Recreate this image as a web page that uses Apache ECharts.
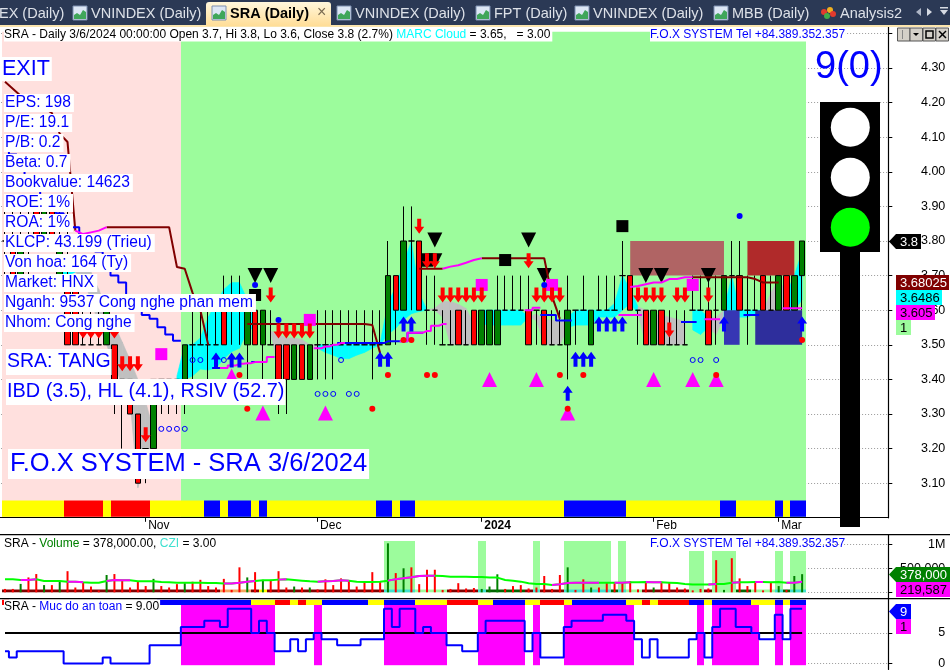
<!DOCTYPE html>
<html><head><meta charset="utf-8">
<style>html,body{margin:0;padding:0;background:#fff}#c{width:950px;height:670px}</style>
<script src="https://cdn.jsdelivr.net/npm/echarts@6/dist/echarts.min.js"></script>
</head><body><div id="c"></div>
<script>
// ---------- categories ----------
const dates=['2023-10-06','2023-10-09','2023-10-10','2023-10-11','2023-10-12','2023-10-13','2023-10-16','2023-10-17','2023-10-18','2023-10-19','2023-10-20','2023-10-23','2023-10-24','2023-10-25','2023-10-26','2023-10-27','2023-10-30','2023-10-31',
'2023-11-01','2023-11-02','2023-11-03','2023-11-06','2023-11-07','2023-11-08','2023-11-09','2023-11-10','2023-11-13','2023-11-14','2023-11-15','2023-11-16','2023-11-17','2023-11-20','2023-11-21','2023-11-22','2023-11-23','2023-11-24','2023-11-27','2023-11-28','2023-11-29','2023-11-30',
'2023-12-01','2023-12-04','2023-12-05','2023-12-06','2023-12-07','2023-12-08','2023-12-11','2023-12-12','2023-12-13','2023-12-14','2023-12-15','2023-12-18','2023-12-19','2023-12-20','2023-12-21','2023-12-22','2023-12-25','2023-12-26','2023-12-27','2023-12-28','2023-12-29',
'2024-01-02','2024-01-03','2024-01-04','2024-01-05','2024-01-08','2024-01-09','2024-01-10','2024-01-11','2024-01-12','2024-01-15','2024-01-16','2024-01-17','2024-01-18','2024-01-19','2024-01-22','2024-01-23','2024-01-24','2024-01-25','2024-01-26','2024-01-29','2024-01-30','2024-01-31',
'2024-02-01','2024-02-02','2024-02-05','2024-02-06','2024-02-07','2024-02-15','2024-02-16','2024-02-19','2024-02-20','2024-02-21','2024-02-22','2024-02-23','2024-02-26','2024-02-27','2024-02-28','2024-02-29',
'2024-03-01','2024-03-04','2024-03-05','2024-03-06'];
const tickIndexes=[18,40,61,83,99];
const tickNames=['Nov','Dec','2024','Feb','Mar'];
const priceTicks=[3.1,3.2,3.3,3.4,3.5,3.6,3.7,3.8,3.9,4.0,4.1,4.2,4.3,4.4];
const priceLabels=[3.1,3.2,3.3,3.4,3.5,3.6,3.7,3.8,3.9,4.0,4.1,4.2,4.3];
const volumeTicks=[0,500000,1000000];
const safetyTicks=[0,5];

// ---------- candles ----------
const opens =[3.8,3.8,3.7,3.8,3.9,3.8,3.9,3.7,3.7,3.7,3.5,3.5,3.5,3.5,3.5,3.4,3.4,3.3,3.2,3.2,3.4,3.4,3.4,3.4,3.5,3.5,3.5,3.5,3.6,3.6,3.6,3.5,3.6,3.5,3.5,3.5,3.5,3.4,3.5,3.4,3.5,3.5,3.5,3.5,3.5,3.5,3.5,3.5,3.5,3.5,3.7,3.6,3.8,3.8,3.6,3.6,3.5,3.5,3.6,3.5,3.6,3.5,3.5,3.5,3.6,3.6,3.6,3.6,3.6,3.6,3.5,3.5,3.5,3.6,3.6,3.5,3.6,3.6,3.6,3.7,3.7,3.6,3.6,3.5,3.6,3.5,3.5,3.5,3.6,3.6,3.6,3.6,3.6,3.7,3.7,3.6,3.6,3.7,3.6,3.6,3.7,3.6,3.7];
const closes=[3.8,3.7,3.8,3.8,3.8,3.9,3.8,3.8,3.5,3.5,3.5,3.5,3.5,3.6,3.4,3.4,3.3,3.1,3.2,3.4,3.4,3.4,3.4,3.5,3.5,3.5,3.5,3.5,3.5,3.6,3.6,3.6,3.5,3.6,3.5,3.4,3.4,3.5,3.4,3.5,3.5,3.5,3.5,3.5,3.5,3.5,3.5,3.5,3.5,3.7,3.6,3.8,3.8,3.6,3.6,3.6,3.5,3.5,3.5,3.5,3.5,3.6,3.6,3.6,3.6,3.6,3.6,3.5,3.6,3.5,3.5,3.5,3.6,3.6,3.6,3.6,3.6,3.6,3.6,3.7,3.6,3.6,3.5,3.6,3.5,3.5,3.5,3.5,3.6,3.6,3.5,3.6,3.7,3.7,3.6,3.6,3.6,3.6,3.6,3.7,3.6,3.7,3.8];
const lows  =[3.7,3.7,3.7,3.7,3.8,3.8,3.8,3.7,3.5,3.5,3.5,3.5,3.5,3.5,3.3,3.2,3.3,3.1,3.1,3.2,3.3,3.3,3.3,3.3,3.4,3.5,3.4,3.5,3.5,3.5,3.5,3.4,3.5,3.4,3.5,3.3,3.3,3.4,3.4,3.4,3.4,3.4,3.4,3.5,3.5,3.5,3.5,3.4,3.5,3.5,3.5,3.6,3.6,3.6,3.5,3.5,3.5,3.5,3.5,3.5,3.5,3.5,3.5,3.5,3.6,3.6,3.6,3.5,3.5,3.5,3.5,3.5,3.4,3.5,3.6,3.5,3.6,3.6,3.6,3.6,3.6,3.5,3.5,3.5,3.5,3.5,3.5,3.5,3.6,3.6,3.5,3.5,3.6,3.6,3.6,3.5,3.6,3.6,3.6,3.6,3.6,3.6,3.6];
const highs =[3.9,3.9,3.9,3.9,3.9,3.9,3.9,3.9,3.9,3.7,3.6,3.6,3.6,3.6,3.5,3.4,3.4,3.3,3.2,3.4,3.4,3.4,3.4,3.5,3.6,3.6,3.6,3.6,3.7,3.7,3.7,3.6,3.6,3.6,3.6,3.5,3.5,3.5,3.5,3.5,3.6,3.6,3.6,3.6,3.6,3.6,3.6,3.6,3.6,3.8,3.7,3.9,3.9,3.8,3.7,3.7,3.6,3.6,3.6,3.6,3.6,3.6,3.6,3.7,3.7,3.7,3.7,3.7,3.6,3.6,3.6,3.6,3.7,3.6,3.7,3.6,3.7,3.7,3.7,3.8,3.7,3.6,3.6,3.6,3.6,3.6,3.6,3.6,3.7,3.7,3.7,3.7,3.7,3.8,3.8,3.7,3.7,3.7,3.7,3.7,3.7,3.7,3.8];

// ---------- volume (shares), direction of each bar ----------
const volumes=[70,70,175,310,380,150,150,220,440,100,200,120,40,360,380,240,100,220,130,280,130,100,170,190,220,260,130,100,280,50,520,310,420,260,260,440,100,120,100,100,60,270,150,290,240,120,210,420,220,1020,400,500,520,170,470,470,50,70,190,80,90,70,120,375,70,130,150,80,100,340,70,360,520,50,270,100,100,210,190,210,230,60,220,100,220,200,100,80,40,70,80,670,50,710,290,130,220,40,200,130,50,340,378];
const volumeUp=[2,5,7,13,19,23,31,33,37,39,49,51,61,62,63,72,75,83,92,99,101,102];
const volumeMA=[271,271,257,257,271,236,236,236,222,222,208,201,201,236,257,250,250,229,229,229,215,208,201,201,201,201,194,194,181,181,201,222,236,250,250,264,271,257,243,229,222,229,236,250,243,222,215,215,222,243,271,292,312,340,347,347,340,326,326,326,319,319,306,306,257,243,222,188,174,174,153,167,194,201,201,201,201,201,201,201,208,208,215,208,208,201,194,174,160,160,160,174,174,201,208,208,215,215,208,215,201,201,219];
const volumeMAPinkIndexes=[2,3,4,8,9,10,13,14,15,16,28,29,30,31,32,35,36,40,41,42,43,44,49,50,51,52,53,54,55,70,71,72,73,74,75,76,78,79,80,82,83,84,90,91,93,94,96,97,100,101,102];
const volumeZoneTall=[49,50,51,52,61,68,72,73,74,75,76,77,79];
const volumeZoneShort=[88,89,91,92,93,99,101,102];
const volumeStripRuns=[['D',28],['O',4],['D',1],['Y',1],['D',15],['T',4],['L',4],['D',4],['T',1],['K',5],['D',1],['T',1],['D',3],['T',6],['K',1],['T',1],['L',2],['D',6],['L',2],['D',1],['L',3],['K',2],['L',3],['T',1],['K',1],['T',2]];

// ---------- safety level panel ----------
const safetyLevel=[2,1,2,2,2,2,2,2,0,0,0,0,0,1,0,0,0,0,0,3,3,3,3,6,6,6,7,7,6,9,9,9,5,7,5,2,2,4,2,4,5,4,4,3,3,3,4,4,4,9,6,9,9,5,6,5,5,3,3,2,2,5,7,7,7,7,7,2,5,1,1,1,6,7,7,7,7,8,8,8,7,4,1,4,1,1,1,1,4,5,1,6,9,9,6,6,5,4,4,8,4,9,9];
const safetyLine=new Array(103).fill(5);
const safetyStripRuns=[['R',1],['-',19],['B',12],['Y',3],['R',2],['Y',1],['R',1],['Y',2],['B',6],['Y',2],['B',4],['Y',4],['R',4],['Y',2],['B',4],['Y',2],['R',3],['Y',1],['B',7],['Y',2],['R',1],['Y',1],['R',4],['B',2],['Y',1],['B',5],['Y',3],['B',1],['Y',1],['B',2]];

// ---------- price-panel bands ----------
const regimeRuns=[['P',23],['G',80]];
const ratingRuns=[['Y',8],['R',5],['Y',1],['R',5],['Y',7],['B',2],['Y',1],['B',3],['Y',1],['B',1],['Y',14],['B',2],['Y',1],['B',2],['Y',19],['B',8],['Y',12],['B',2],['Y',5],['B',1],['Y',1],['B',2]];
const boxes=[[80,92,3.7,3.8,'brown'],[95,101,3.7,3.8,'maroon'],[92,94,3.5,3.6,'blue'],[96,102,3.5,3.6,'navy']];

// ---------- cloud ----------
const cloudTop=[null,null,null,null,null,null,null,3.73,3.73,3.72,3.72,3.71,3.66,3.603,3.557,3.508,3.456,3.4,3.335,3.254,null,null,3.41,3.5,3.5,3.52,3.58,3.62,3.66,3.68,3.68,3.63,3.58,null,3.54,3.53,3.52,3.52,3.515,3.5,3.5,3.5,3.5,3.5,3.5,3.5,3.5,3.5,3.505,3.62,3.668,3.736,3.8,3.65,3.6,3.606,3.625,3.625,3.617,3.605,3.56,3.6,3.6,3.6,3.6,3.6,3.6,3.58,3.59,3.572,3.572,3.565,3.58,3.6,3.6,3.6,3.6,3.6,3.62,3.7,3.66,3.61,3.6,3.586,3.586,3.58,3.574,3.567,3.6,3.6,3.58,3.58,3.6,3.7,3.6,3.6,3.6,3.6,3.65,3.69,3.65,3.7,3.77];
const cloudBottom=[null,null,null,null,null,null,null,3.7,3.7,3.71,3.69,3.63,3.557,3.5,3.44,3.385,3.34,3.087,3.167,3.225,null,null,3.4,3.4,3.41,3.43,3.427,3.433,3.46,3.48,3.49,3.54,3.55,null,3.54,3.42,3.5,3.5,3.5,3.5,3.49,3.478,3.47,3.46,3.46,3.47,3.478,3.49,3.5,3.53,3.548,3.572,3.59,3.596,3.6,3.6,3.58,3.5,3.5,3.5,3.5,3.56,3.557,3.557,3.557,3.557,3.557,3.58,3.57,3.5,3.5,3.5,3.55,3.557,3.557,3.557,3.58,3.58,3.58,3.6,3.62,3.59,3.5,3.5,3.5,3.5,3.5,3.5,3.543,3.53,3.55,3.53,3.58,3.6,3.58,3.58,3.59,3.6,3.6,3.6,3.6,3.6,3.63];
const cloudKindRuns=[['-',7],['C',2],['S',11],['-',2],['C',11],['-',1],['S',6],['C',14],['S',6],['-',1],['C',6],['S',5],['C',9],['S',6],['-',1],['C',2],['S',2],['C',5],['S',3],['C',3]];

// ---------- overlay lines ([index,value] readings; gaps are breaks) ----------
const stopReadings=[[0,4.26],[1,4.24],[2,4.22],[3,4.21],[4,4.2],[5,4.185],[6,4.17],[7,4.11],[8,4.086],[9,3.83],[13,3.84],[14,3.84],[15,3.84],[16,3.84],[17,3.84],[18,3.84],[19,3.84],[20,3.84],[21,3.84],[22,3.725],[23,3.72],[24,3.65],[25,3.6],[26,3.5],[31,3.56],[32,3.56],[33,3.56],[34,3.56],[35,3.56],[36,3.56],[37,3.56],[38,3.56],[39,3.56],[40,3.56],[41,3.56],[42,3.56],[43,3.56],[44,3.56],[45,3.56],[46,3.56],[47,3.557],[48,3.476],[53,3.72],[54,3.72],[55,3.72],[56,3.72],[61,3.75],[62,3.75],[63,3.75],[64,3.75],[65,3.75],[66,3.75],[67,3.75],[68,3.75],[69,3.75],[70,3.64],[71,3.575],[88,3.695],[89,3.695],[90,3.695],[91,3.695],[92,3.695],[93,3.695],[94,3.695],[95,3.695],[96,3.69],[97,3.68],[98,3.68],[99,3.68]];
const stopPinkReadings=[[9,3.83],[10,3.82],[11,3.825],[12,3.83],[13,3.84],[56,3.72],[57,3.726],[58,3.73],[59,3.737],[60,3.745],[61,3.75],[80,3.667],[81,3.67],[82,3.675],[83,3.68],[84,3.68],[85,3.69],[86,3.69],[87,3.695],[88,3.695]];
const trendBlueReadings=[[0,4.07],[1,4.05],[2,4.01],[3,3.99],[4,3.96],[5,3.93],[6,3.91],[7,3.88],[8,3.87],[9,3.84],[10,3.82],[11,3.8],[12,3.77],[13,3.74],[14,3.7],[15,3.68],[16,3.63],[17,3.6],[18,3.586],[19,3.575],[20,3.551],[21,3.53],[22,3.512],[27,3.433],[28,3.433],[32,3.45],[33,3.45],[43,3.505],[44,3.505],[45,3.505],[46,3.505],[47,3.505],[48,3.505],[49,3.51],[50,3.51],[51,3.51],[52,3.535],[53,3.535],[69,3.586],[70,3.586],[71,3.57],[72,3.57],[87,3.566],[88,3.566],[95,3.586],[96,3.586]];
const trendPinkReadings=[[28,3.433],[29,3.44],[30,3.445],[31,3.447],[32,3.45],[33,3.45],[34,3.465],[40,3.49],[41,3.495],[42,3.5],[43,3.505],[51,3.51],[52,3.535],[53,3.535],[54,3.54],[55,3.555],[56,3.56],[67,3.6],[68,3.607],[79,3.586],[80,3.586],[81,3.586],[90,3.574],[91,3.574],[100,3.606],[101,3.606],[102,3.606]];

// ---------- signal markers ----------
const redArrows=[[10,3.54],[11,3.54],[12,3.54],[14,3.54],[15,3.445],[16,3.445],[17,3.445],[18,3.24],[34,3.644],[35,3.54],[36,3.54],[37,3.54],[38,3.54],[39,3.54],[53,3.843],[54,3.743],[55,3.743],[56,3.644],[57,3.644],[58,3.644],[59,3.644],[60,3.644],[61,3.644],[67,3.743],[68,3.644],[69,3.644],[70,3.644],[71,3.644],[81,3.644],[82,3.644],[83,3.644],[84,3.644],[85,3.543],[86,3.644],[87,3.644],[90,3.644]];
const blueArrows=[[27,3.456],[29,3.456],[30,3.456],[48,3.458],[49,3.458],[51,3.56],[52,3.56],[72,3.36],[73,3.458],[74,3.458],[75,3.458],[76,3.56],[77,3.56],[78,3.56],[79,3.56],[92,3.56],[102,3.56]];
const blackDown=[[32,3.7],[34,3.7],[54,3.743],[55,3.743],[55,3.803],[67,3.803],[69,3.7],[82,3.7],[84,3.7],[90,3.7]];
const blackSquares=[[32,3.644],[54,3.743],[64,3.745],[79,3.843]];
const pinkSquares=[[20,3.473],[39,3.572],[61,3.673],[70,3.673],[88,3.673]];
const pinkTriangles=[[29,3.41],[33,3.303],[41,3.303],[62,3.4],[68,3.4],[72,3.303],[83,3.4],[88,3.4],[91,3.4]];
const blueDots=[[32,3.673],[35,3.572],[69,3.673],[94,3.872]];
const redDots=[[30,3.413],[31,3.315],[47,3.315],[49,3.413],[51,3.514],[52,3.514],[54,3.413],[55,3.413],[71,3.413],[72,3.315],[74,3.413],[91,3.413],[102,3.514]];
const openCircles=[[20,3.257],[21,3.257],[22,3.257],[23,3.257],[24,3.456],[25,3.456],[28,3.456],[40,3.358],[41,3.358],[42,3.358],[43,3.456],[44,3.358],[45,3.358],[88,3.456],[89,3.456],[91,3.456]];

// ---------- texts ----------
const infoLines=['EPS: 198','P/E: 19.1','P/B: 0.2','Beta: 0.7','Bookvalue: 14623','ROE: 1%','ROA: 1%','KLCP: 43.199 (Trieu)','Von hoa: 164 (Ty)','Market: HNX','Nganh: 9537 Cong nghe phan mem','Nhom: Cong nghe'];
const tabs=[['EX (Daily)',-1,null],['VNINDEX (Daily)',91,73],['VNINDEX (Daily)',355,337],['FPT (Daily)',494,476],['VNINDEX (Daily)',593,575],['MBB (Daily)',732,714]];

// ---------- helpers ----------
const N=dates.length;
const expand=r=>r.flatMap(([c,n])=>new Array(n).fill(c));
const sparse=p=>{const a=new Array(N).fill(null);p.forEach(([i,v])=>a[i]=v);return a};
const axisCats=dates.concat(new Array(11).fill(''));

const palette={P:'#FFE0DE',G:'#9CFC9C',Y:'#FFFF00',R:'#FF0000',B:'#0000FF',D:'#800000',O:'#F4A460',T:'#40E0D0',L:'#9CFC9C',K:'#006400',
  brown:'#B06464',maroon:'#B02A2A',blue:'#3636B4',navy:'#2E2E9C',C:'#00FFFF',S:'#C0C0C0',M:'#FF00FF'};

function bands(name,grid,codes,lo,hi,z){
  const data=[];const col=[];
  codes.forEach((c,i)=>{if(c!=='-'){data.push([i,lo,hi]);col.push(palette[c])}});
  return {type:'custom',name,xAxisIndex:grid,yAxisIndex:grid,z,silent:true,clip:false,animation:false,data,encode:{x:0,y:[1,2]},
    renderItem(p,api){
      const a=api.coord([api.value(0),api.value(2)]),b=api.coord([api.value(0),api.value(1)]);
      const w=api.size([1,0])[0];
      const x0=Math.max(2,Math.round(a[0]-w/2)),x1=Math.round(a[0]+w/2);
      return {type:'rect',shape:{x:x0,y:a[1],width:x1-x0,height:b[1]-a[1]},style:{fill:col[p.dataIndex]}};
    }};
}
function whiteBack(grid,lo,hi){
  return {type:'custom',name:'panel'+grid,xAxisIndex:grid,yAxisIndex:grid,z:1,silent:true,animation:false,data:[[0,lo,hi]],encode:{x:0,y:[1,2]},
    renderItem(p,api){
      const a=api.coord([0,api.value(2)]),b=api.coord([N-1,api.value(1)]);const w=api.size([1,0])[0];
      return {type:'rect',shape:{x:0,y:a[1],width:b[0]+w/2,height:b[1]-a[1]},style:{fill:'#fff'}};
    }};
}
function lineS(name,grid,data,color,z,extra){
  return Object.assign({type:'line',name,xAxisIndex:grid,yAxisIndex:grid,data,symbol:'none',z,silent:true,animation:false,connectNulls:false,
    lineStyle:{color,width:2,cap:'butt'}},extra||{});
}
function marks(name,data,symbol,size,color,z,extra){
  return Object.assign({type:'scatter',name,xAxisIndex:0,yAxisIndex:0,data,symbol,symbolSize:size,z:z||12,silent:true,animation:false,
    itemStyle:{color,opacity:1}},extra||{});
}
const upArrow='path://M5 0 L10 7 L7 7 L7 15 L3 15 L3 7 L0 7 Z';
const downArrow='path://M3 0 L7 0 L7 8 L10 8 L5 15 L0 8 L3 8 Z';

// ---------- series ----------
const series=[
  bands('regime',0,expand(regimeRuns),3.0,4.405,1),
  bands('rating',0,expand(ratingRuns),3.003,3.05,2),
  {type:'custom',name:'cloud',xAxisIndex:0,yAxisIndex:0,z:3,silent:true,animation:false,data:cloudTop.map((t,i)=>[i,t==null?0:t]),encode:{x:0,y:1},
    renderItem(p,api){
      const i=p.dataIndex,k=expand(cloudKindRuns)[i];
      if(k==='-'||i>=N-1||cloudTop[i]==null||cloudTop[i+1]==null)return null;
      const pts=[api.coord([i,cloudTop[i]]),api.coord([i+1,cloudTop[i+1]]),api.coord([i+1,cloudBottom[i+1]]),api.coord([i,cloudBottom[i]])];
      return {type:'polygon',shape:{points:pts},style:{fill:palette[k],stroke:palette[k],lineWidth:.6}};
    }},
  {type:'custom',name:'boxes',xAxisIndex:0,yAxisIndex:0,z:4,silent:true,animation:false,data:boxes.map(b=>[b[0],b[1],b[2],b[3]]),encode:{x:[0,1],y:[2,3]},
    renderItem(p,api){
      const a=api.coord([api.value(0),api.value(3)]),b=api.coord([api.value(1),api.value(2)]);
      return {type:'rect',shape:{x:a[0],y:a[1],width:b[0]-a[0],height:b[1]-a[1]},style:{fill:palette[boxes[p.dataIndex][4]]}};
    }},
  marks('black down low',blackDown,'triangle',[15,15],'#000',5,{symbolRotate:180}),
  {type:'candlestick',name:'SRA',xAxisIndex:0,yAxisIndex:0,z:6,silent:true,animation:false,barWidth:6,
    data:opens.map((o,i)=>[o,closes[i],lows[i],highs[i]]),
    itemStyle:{color:'#008000',color0:'#FF0000',borderColor:'#000',borderColor0:'#000',borderColorDoji:'#000',borderWidth:1}},
  lineS('stop',0,sparse(stopReadings),'#800000',7),
  lineS('stop pink',0,sparse(stopPinkReadings),'#FF00FF',8),
  lineS('trend blue',0,sparse(trendBlueReadings),'#0000FF',7,{step:'middle'}),
  lineS('trend pink',0,sparse(trendPinkReadings),'#FF00FF',8,{step:'middle'}),
  marks('black square',blackSquares,'rect',12,'#000',11),
  marks('pink square',pinkSquares,'rect',12,'#FF00FF',11),
  marks('pink triangle',pinkTriangles,'triangle',[15,15],'#FF00FF',11),
  marks('open circles',openCircles,'circle',5,'rgba(0,0,0,0)',11,{itemStyle:{color:'rgba(0,0,0,0)',borderColor:'#0000FF',borderWidth:1,opacity:1}}),
  marks('red arrows',redArrows,downArrow,[10,15],'#FF0000',12),
  marks('blue arrows',blueArrows,upArrow,[10,15],'#0000FF',12),
  marks('blue dots',blueDots,'circle',6,'#0000FF',13),
  marks('red dots',redDots,'circle',6,'#FF0000',13),

  whiteBack(1,-118750,1204000),
  bands('volume zone tall',1,dates.map((d,i)=>volumeZoneTall.includes(i)?'G':'-'),0,1069000,2),
  bands('volume zone short',1,dates.map((d,i)=>volumeZoneShort.includes(i)?'G':'-'),0,860000,2),
  bands('CZI strip',1,expand(volumeStripRuns),0,58000,3),
  {type:'bar',name:'Volume',xAxisIndex:1,yAxisIndex:1,z:4,silent:true,animation:false,barWidth:2,
    data:volumes.map((v,i)=>({value:v*1000,itemStyle:{color:volumeUp.includes(i)?'#008000':'#FF0000'}}))},
  lineS('volume MA',1,volumeMA.map(v=>v*1000),'#00FF00',5),
  lineS('volume MA pink',1,volumeMA.map((v,i)=>volumeMAPinkIndexes.includes(i)?v*1000:null),'#FF00FF',6),

  whiteBack(2,-0.977,10.668),
  bands('safe zone',2,safetyLevel.map(v=>v>=5?'M':'-'),-0.28,9.6,2),
  bands('safety strip',2,expand(safetyStripRuns),9.6,10.45,3),
  lineS('threshold',2,safetyLine,'#000',4),
  lineS('Muc do an toan',2,safetyLevel,'#0000FF',5,{step:'middle'})
];

// ---------- decoration ----------
const FONT='"Liberation Sans"';
const g=[];
const R=(x,y,w,h,fill,extra)=>g.push(Object.assign({type:'rect',shape:{x,y,width:w,height:h},style:{fill},z:100,silent:true},extra||{}));
const T=(text,x,y,size,fill,o)=>g.push({type:'text',x,y,z:(o&&o.z)||110,silent:true,style:Object.assign({text,fill,font:((o&&o.bold)?'bold ':'')+size+'px '+FONT,verticalAlign:'middle',align:(o&&o.align)||'left'},(o&&o.style)||{})});
const box=(text,x,y,size,fill,pad)=>T(text,x,y,size,fill,{style:{backgroundColor:'#fff',padding:pad||[1,3,1,1]}});

// tab strip
R(0,0,950,25,'#2B3955');R(0,25,950,2,'#FBE5AE');
R(206,2,125,24,new echarts.graphic.LinearGradient(0,0,0,1,[{offset:0,color:'#FFF7DC'},{offset:1,color:'#FFDD97'}]),{shape:{x:206,y:2,width:125,height:24,r:[3,3,0,0]}});
function icon(x){
  R(x,6,14,14,'#DCE6F5',{style:{fill:'#DCE6F5',stroke:'#7C8FB0',lineWidth:1}});
  g.push({type:'polygon',z:101,silent:true,shape:{points:[[x+1,19],[x+1,15],[x+4,13],[x+7,15],[x+10,10],[x+13,12],[x+13,19]]},style:{fill:'#3FA65A'}});
}
tabs.forEach(t=>{T(t[0],t[1],13.5,14.5,'#DDE1E8');if(t[2]!=null)icon(t[2])});
icon(212);T('SRA (Daily)',230,13.5,14.5,'#000',{bold:true});T('×',317,12.5,16,'#7A6A50');
[['#E23B2E',824,12],['#F2B01E',830,10],['#3FAE4A',827,16],['#E23B2E',833,14]].forEach(c=>g.push({type:'circle',z:101,silent:true,shape:{cx:c[1],cy:c[2],r:3},style:{fill:c[0]}}));
T('Analysis2',840,13.5,14.5,'#DDE1E8');
g.push({type:'polygon',z:101,silent:true,shape:{points:[[921,8],[921,16],[916,12]]},style:{fill:'#AEB6C6'}});
g.push({type:'polygon',z:101,silent:true,shape:{points:[[927,8],[927,16],[932,12]]},style:{fill:'#D5DAE3'}});
g.push({type:'polygon',z:101,silent:true,shape:{points:[[940,10],[948,10],[944,15]]},style:{fill:'#D5DAE3'}});
R(940,7,8,1.5,'#D5DAE3');

// window buttons
[897.5,910,923,936].forEach(x=>R(x,28,12.5,13,'#D4D0C8',{style:{fill:'#D4D0C8',stroke:'#555',lineWidth:1}}));
R(902,30,1,9,'#888');
g.push({type:'polygon',z:101,silent:true,shape:{points:[[913,33],[919,33],[916,36]]},style:{fill:'#000'}});
g.push({type:'rect',z:101,silent:true,shape:{x:926,y:31,width:7,height:7},style:{fill:'none',stroke:'#000',lineWidth:1.5}});
g.push({type:'polyline',z:101,silent:true,shape:{points:[[939,31],[946,38]]},style:{stroke:'#000',lineWidth:1.5,fill:'none'}});
g.push({type:'polyline',z:101,silent:true,shape:{points:[[946,31],[939,38]]},style:{stroke:'#000',lineWidth:1.5,fill:'none'}});

// axis separators
R(0,517,888,1,'#000');R(0,534,950,1.2,'#000');R(0,598,950,1.2,'#000');

// title rows
g.push({type:'text',x:4,y:34.5,z:110,silent:true,style:{text:'{k|SRA - Daily 3/6/2024 00:00:00 Open 3.7, Hi 3.8, Lo 3.6, Close 3.8 (2.7%) }{c|MARC Cloud}{k| = 3.65,   = 3.00}',font:'12px '+FONT,verticalAlign:'middle',backgroundColor:'#fff',padding:[1,2,1,0],rich:{k:{fill:'#000',font:'12px '+FONT},c:{fill:'#00FFFF',font:'12px '+FONT}}}});
T('F.O.X SYSTEM Tel +84.389.352.357',650,34.5,12,'#0000FF',{style:{backgroundColor:'#fff',padding:[1,0,1,0]}});
T('F.O.X SYSTEM Tel +84.389.352.357',650,544,12,'#0000FF');
g.push({type:'text',x:4,y:544,z:110,silent:true,style:{text:'{k|SRA - }{g|Volume}{k| = 378,000.00, }{t|CZI}{k| = 3.00}',font:'12px '+FONT,verticalAlign:'middle',rich:{k:{fill:'#000',font:'12px '+FONT},g:{fill:'#008000',font:'12px '+FONT},t:{fill:'#40E0D0',font:'12px '+FONT}}}});
g.push({type:'text',x:4,y:607,z:110,silent:true,style:{text:'{k|SRA - }{b|Muc do an toan}{k| = 9.00}',font:'12px '+FONT,verticalAlign:'middle',backgroundColor:'#fff',padding:[1,1,1,0],rich:{k:{fill:'#000',font:'12px '+FONT},b:{fill:'#0000FF',font:'12px '+FONT}}}});

// info boxes
box('EXIT',0,69,21.5,'#0000FF',[1,2,1,2]);
infoLines.forEach((t,i)=>box(t,4,103+i*20,15.6,'#0000FF'));
box('SRA: TANG',6,362,19.5,'#0000FF',[3,1,3,1]);
box('IBD (3.5), HL (4.1), RSIV (52.7)',6,392,19.9,'#0000FF',[3,1,3,1]);
box('F.O.X SYSTEM - SRA 3/6/2024',8,464,25.5,'#0000FF',[2,2,2,2]);
T('9(0)',815,68,38,'#0000FF');

// traffic light
R(820,102,60,150,'#000');R(840,252,20,275,'#000');
[[127.3,'#fff'],[177.3,'#fff'],[227.3,'#00FF00']].forEach(c=>g.push({type:'circle',z:101,silent:true,shape:{cx:850.3,cy:c[0],r:19.5},style:{fill:c[1]}}));

// value tags
const tag=(x0,y0,x1,y1,fill,txt,col,arrow)=>{
  g.push({type:'polygon',z:105,silent:true,shape:{points:arrow?[[x0,(y0+y1)/2],[x0+7,y0],[x1,y0],[x1,y1],[x0+7,y1]]:[[x0,y0],[x1,y0],[x1,y1],[x0,y1]]},style:{fill}});
  T(txt,arrow?x0+11:x0+4,(y0+y1)/2+.5,13,col,{z:111});
};
tag(889,234,921,249,'#000','3.8','#fff',true);
tag(896,275,949,290,'#800000','3.68025','#fff');
tag(896,290,942,305,'#00FFFF','3.6486','#000');
tag(896,305,935,320,'#FF00FF','3.605','#000');
tag(896,320,911,335,'#9CFC9C','1','#000');
tag(889,567,950,582,'#008000','378,000','#fff',true);
tag(896,582,950,597,'#FF00FF','219,587','#000');
tag(889,604,911,619,'#0000FF','9','#fff',true);
tag(896,619,911,634,'#FF00FF','1','#000');

// ---------- axes ----------
const xA=(gridIndex,show)=>({type:'category',gridIndex,data:axisCats,axisLine:{show:false},splitLine:{show:false},
  axisTick:{show,length:4,alignWithLabel:true,interval:(i)=>tickIndexes.includes(i),lineStyle:{color:'#000'}},
  axisLabel:{show,margin:1,align:'left',interval:(i)=>tickIndexes.includes(i),fontFamily:'Liberation Sans',fontSize:12,color:'#000',padding:[1,0,0,2.5],
    formatter:(v,i)=>{const k=tickIndexes.indexOf(i);if(k<0)return'';return tickNames[k]==='2024'?'{y|2024}':tickNames[k]},rich:{y:{fontWeight:'bold',fontFamily:'Liberation Sans',fontSize:12,color:'#000'}}}});
const yA=(gridIndex,min,max,ticks,labels,fmt)=>({type:'value',gridIndex,position:'right',offset:-3.7,min,max,
  axisLine:{show:true,onZero:false,lineStyle:{color:'#000',width:1.2}},
  axisTick:{show:true,length:4,customValues:ticks,lineStyle:{color:'#000'}},
  axisLabel:{show:true,customValues:labels,margin:57,align:'right',fontFamily:'Liberation Sans',fontSize:12.5,color:'#000',formatter:fmt},
  splitLine:{show:true,lineStyle:{color:'#999',type:[1,2],width:1}}});

const chart=echarts.init(document.getElementById('c'),null,{renderer:'canvas'});
chart.setOption({
  animation:false,backgroundColor:'#fff',
  grid:[{left:1.1,top:26.5,width:890.9,height:491.3},{left:1.1,top:534.5,width:890.9,height:63.5},{left:1.1,top:598.5,width:890.9,height:71.5}],
  xAxis:[xA(0,true),xA(1,false),xA(2,false)],
  yAxis:[yA(0,3,4.42,priceTicks,priceLabels,v=>v.toFixed(2)),
         yA(1,-118750,1204000,volumeTicks,volumeTicks,v=>v===1000000?'1M':v===500000?'500,000':'0'),
         yA(2,-0.977,10.668,safetyTicks,safetyTicks,v=>String(v))],
  series,graphic:{elements:g}
});
</script></body></html>
